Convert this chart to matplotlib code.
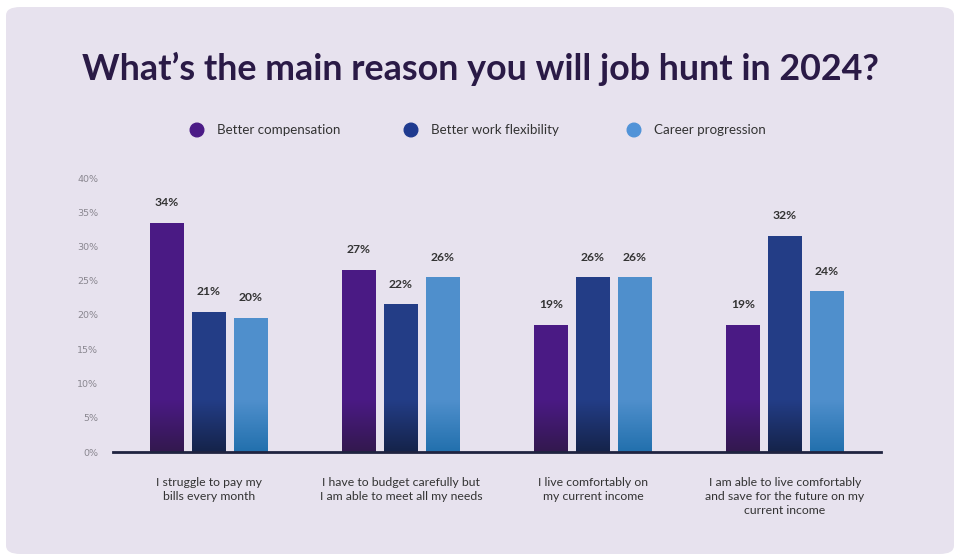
import numpy as np
import matplotlib.pyplot as plt
from matplotlib.patches import FancyBboxPatch, Circle
from matplotlib.colors import LinearSegmentedColormap

plt.rcParams['font.family'] = ['Lato', 'DejaVu Sans']

categories = ['I struggle to pay my\nbills every month',
              'I have to budget carefully but\nI am able to meet all my needs',
              'I live comfortably on\nmy current income',
              'I am able to live comfortably\nand save for the future on my\ncurrent income']
series = ['Better compensation', 'Better work flexibility', 'Career progression']
compensation = [33.5, 26.6, 18.6, 18.6]
flexibility = [20.5, 21.6, 25.5, 31.6]
progression = [19.6, 25.5, 25.5, 23.5]
comp_labels = ['34%', '27%', '19%', '19%']
flex_labels = ['21%', '22%', '26%', '32%']
prog_labels = ['20%', '26%', '26%', '24%']

top_colors = ['#4a1a84', '#233d86', '#4f8fcc']
bottom_colors = ['#33184e', '#15234a', '#2270ad']
legend_colors = ['#4b1b86', '#1f3a8f', '#5193d8']
bg = '#e7e2ee'

fig = plt.figure(figsize=(9.6, 5.6), dpi=100)
fig.patch.set_facecolor('white')
card = FancyBboxPatch((6 / 960, 6 / 560), 948 / 960, 547 / 560,
                      boxstyle='round,pad=0,rounding_size=0.015',
                      transform=fig.transFigure, facecolor=bg, edgecolor='none',
                      zorder=-10)
fig.add_artist(card)

fig.text(0.5, 0.877, 'What’s the main reason you will job hunt in 2024?',
         ha='center', va='center', fontsize=25.8, fontweight='bold', color='#2a1a46')

# legend
leg_x = [197, 411, 634]
for name, c, lx in zip(series, legend_colors, leg_x):
    fig.add_artist(Circle((lx / 100, (560 - 130) / 100), 0.068,
                          transform=fig.dpi_scale_trans, color=c))
    fig.text((lx + 20) / 960, 1 - 130 / 560, name, ha='left', va='center',
             fontsize=9.6, color='#333333')

ax = fig.add_axes([113 / 960, 1 - 452 / 560, 768 / 960, 274 / 560])
ax.set_facecolor('none')

x = np.arange(4) + 0.5
w = 34 / 192
step = 42 / 192
grad_h = 7.5
all_vals = [compensation, flexibility, progression]
all_labels = [comp_labels, flex_labels, prog_labels]
for i, (vals, labs) in enumerate(zip(all_vals, all_labels)):
    xs = x + (i - 1) * step
    ax.bar(xs, vals, width=w, color=top_colors[i], edgecolor='none', zorder=2)
    cmap = LinearSegmentedColormap.from_list('g', [bottom_colors[i], top_colors[i]])
    grad = np.linspace(0, 1, 100).reshape(-1, 1)
    for xi, v, lab in zip(xs, vals, labs):
        ax.imshow(grad, cmap=cmap, origin='lower', aspect='auto', zorder=3,
                  extent=[xi - w / 2, xi + w / 2, 0, min(grad_h, v)])
        ax.text(xi, v + 2.1, lab, ha='center', va='bottom', fontsize=8.7,
                fontweight='bold', color='#333333')

ax.set_xlim(0, 4)
ax.set_ylim(0, 40)
ax.set_yticks(range(0, 41, 5))
ax.set_yticklabels([f'{t}%' for t in range(0, 41, 5)], fontsize=6.8,
                   color='#8a8790', family=['DejaVu Sans'])
ax.tick_params(axis='y', length=0, pad=10.5)
ax.set_xticks(x)
ax.set_xticklabels(categories, fontsize=8.8, color='#333333', linespacing=1.35, va='top')
ax.tick_params(axis='x', length=0, pad=18)
for s in ['top', 'right', 'left']:
    ax.spines[s].set_visible(False)
ax.spines['bottom'].set_color('#1f2340')
ax.spines['bottom'].set_linewidth(2)
ax.spines['bottom'].set_zorder(5)

fig.savefig('out.png', dpi=100, facecolor='white')
